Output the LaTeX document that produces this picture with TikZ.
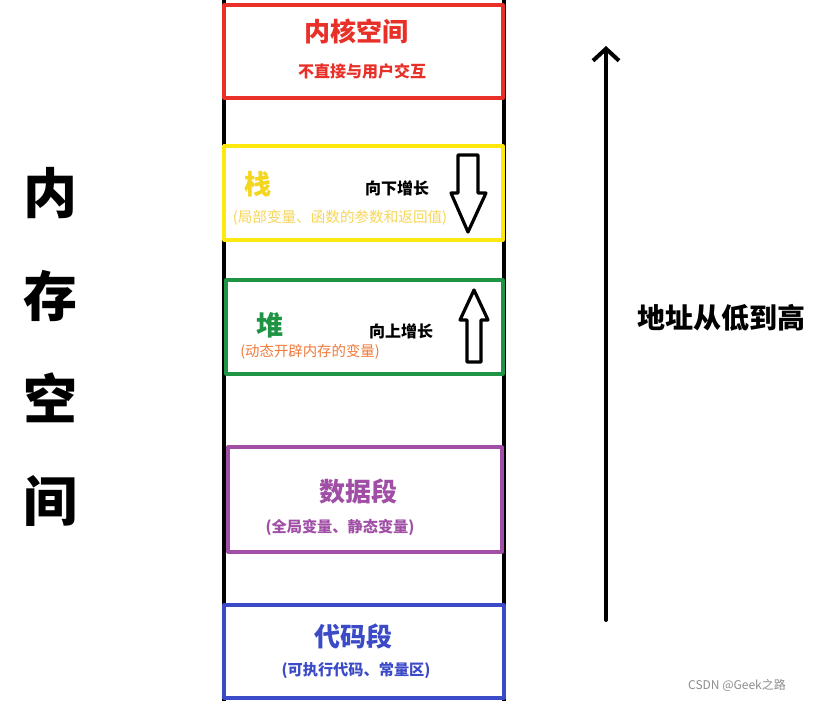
\documentclass[tikz,border=0pt]{standalone}
\usepackage{fontspec}
\setmainfont{Noto Sans CJK SC}
\usepackage{xcolor}
\usepackage{tikz}
\usetikzlibrary{calc}
\usetikzlibrary{arrows.meta}
\definecolor{ebqqqq}{rgb}{0.91,0.19,0.16}
\definecolor{ffeeqq}{rgb}{1.,0.91,0.05}
\definecolor{ffddqq}{rgb}{0.96,0.84,0.12}
\definecolor{ffddww}{rgb}{0.97,0.84,0.35}
\definecolor{qqyyww}{rgb}{0.12,0.58,0.27}
\definecolor{ffwwqq}{rgb}{0.94,0.48,0.23}
\definecolor{zzqqzz}{rgb}{0.63,0.31,0.65}
\definecolor{qqqqcc}{rgb}{0.23,0.29,0.78}
\definecolor{uuuuuu}{rgb}{0.55,0.55,0.55}
\tikzstyle{every node}=[font=\bfseries,inner sep=0pt]
\tikzstyle{segbox}=[draw,line width=1.6pt,fill=white,minimum width=139.5pt,minimum height=46.5pt]

\begin{document}
\begin{tikzpicture}[line cap=round,line join=round,>={Straight Barb[length=6pt,width=13pt]},x=0.5pt,y=-0.5pt]
            \useasboundingbox (0,0) rectangle (820,701);
            \draw [line width=2pt] (224,0) -- (224,701);
            \draw [line width=2pt] (503.5,0) -- (503.5,701);
            % segments
            \node (kernel) [segbox,draw=ebqqqq] at (363.5,51.5) {};
            \node (stack) [segbox,draw=ffeeqq,minimum height=47pt] at (363.5,193) {};
            \node (heap) [segbox,draw=qqyyww,minimum width=138.5pt,minimum height=47pt] at (364.5,327) {};
            \node (data) [segbox,draw=zzqqzz,minimum width=137pt,minimum height=52.5pt] at (365,499.5) {};
            \node (code) [segbox,draw=qqqqcc,minimum width=140pt] at (364,651.5) {};
            \node (kerneltitle) [color=ebqqqq,font=\bfseries\fontsize{13pt}{13pt}\selectfont] at (356,31) {内核空间};
            \node (kernelnote) [color=ebqqqq,font=\bfseries\fontsize{8pt}{8pt}\selectfont] at (362,71) {不直接与用户交互};
            \node (stacktitle) [color=ffddqq,font=\bfseries\fontsize{13.5pt}{13.5pt}\selectfont] at (258,184) {栈};
            \node (stackdir) [font=\bfseries\fontsize{8pt}{8pt}\selectfont] at (397,188) {向下增长};
            \node (stacknote) [color=ffddww,font=\fontsize{7.3pt}{7.3pt}\selectfont] at (340,218) {(局部变量、函数的参数和返回值)};
            \node (heaptitle) [color=qqyyww,font=\bfseries\fontsize{13.5pt}{13.5pt}\selectfont] at (270,325) {堆};
            \node (heapdir) [font=\bfseries\fontsize{8pt}{8pt}\selectfont] at (401,331) {向上增长};
            \node (heapnote) [color=ffwwqq,font=\fontsize{7.2pt}{7.2pt}\selectfont] at (310,352) {(动态开辟内存的变量)};
            \node (datatitle) [color=zzqqzz,font=\bfseries\fontsize{13pt}{13pt}\selectfont] at (358,491) {数据段};
            \node (datanote) [color=zzqqzz,font=\bfseries\fontsize{7.6pt}{7.6pt}\selectfont] at (340,527) {(全局变量、静态变量)};
            \node (codetitle) [color=qqqqcc,font=\bfseries\fontsize{13pt}{13pt}\selectfont] at (353,636) {代码段};
            \node (codenote) [color=qqqqcc,font=\bfseries\fontsize{7.6pt}{7.6pt}\selectfont] at (356,671) {(可执行代码、常量区)};
            % hollow arrows
            \draw [line width=1.6pt] (458,155) -- (478,155) -- (478,193) -- (486,193) -- (468,232) -- (451,193) -- (458,193) -- cycle;
            \draw [line width=1.6pt] (467,362) -- (481,362) -- (481,320) -- (488,320) -- (474,290) -- (460,320) -- (467,320) -- cycle;
            % left title
            \node (mem1) [font=\bfseries\fontsize{27pt}{27pt}\selectfont] at (51,193) {内};
            \node (mem2) [font=\bfseries\fontsize{27pt}{27pt}\selectfont] at (51,296) {存};
            \node (mem3) [font=\bfseries\fontsize{27pt}{27pt}\selectfont] at (51,398) {空};
            \node (mem4) [font=\bfseries\fontsize{27pt}{27pt}\selectfont] at (51,501) {间};
            % address arrow
            \coordinate (low) at (606,620);
            \coordinate (high) at (606,46);
            \draw [->,line width=2pt] (low) -- (high);
            \node (addr) [font=\bfseries\fontsize{14pt}{14pt}\selectfont] at (721,318) {地址从低到高};
            \node (mark) [color=uuuuuu,font=\fontsize{6pt}{6pt}\selectfont] at (737,685) {CSDN @Geek之路};
\end{tikzpicture}
\end{document}
